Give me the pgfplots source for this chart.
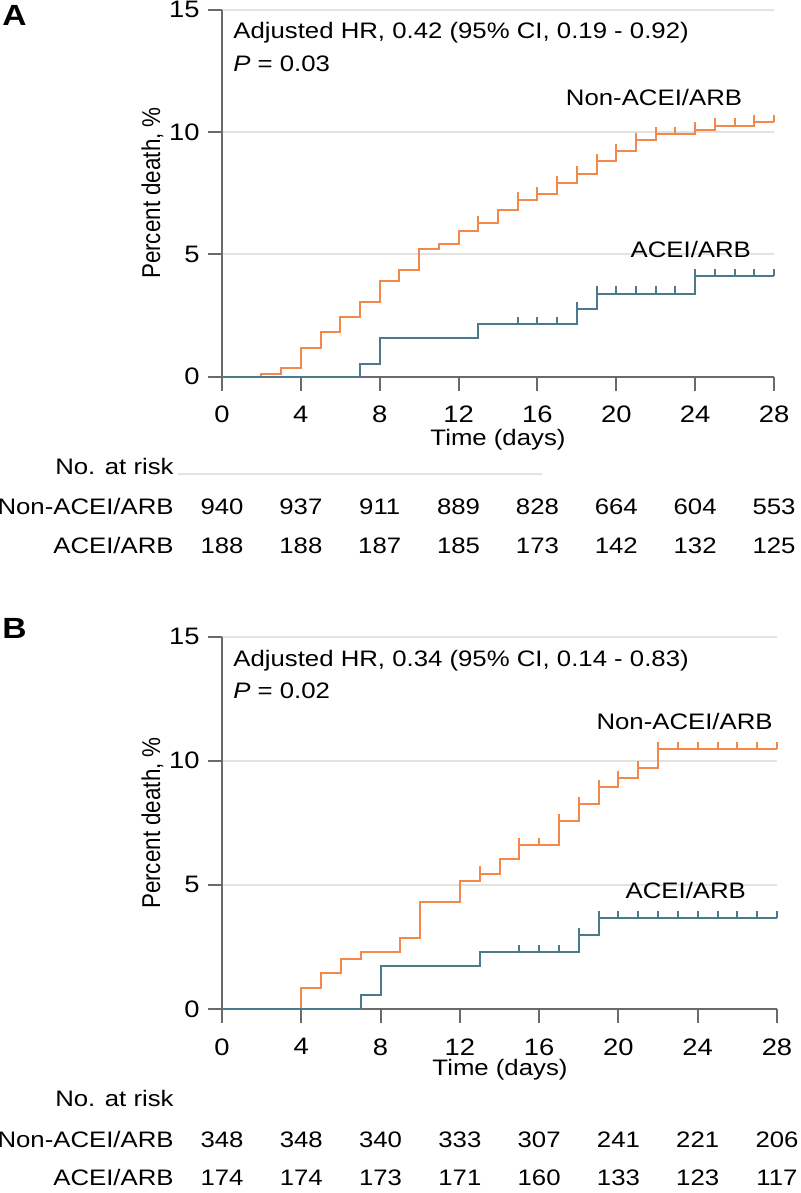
\documentclass[border=0pt]{standalone}
\usepackage{fontspec}
\setmainfont{Liberation Sans}[FakeStretch=1.15]
\newfontfamily\plainfont{Liberation Sans}
\usepackage{pgfplots}
\pgfplotsset{compat=1.18}
\definecolor{kmorange}{HTML}{F4874B}
\definecolor{kmblue}{HTML}{4A7A8C}
\definecolor{axisgray}{HTML}{6A6A6A}
\definecolor{gridgray}{HTML}{E2E2E2}
\pgfdeclareplotmark{cens}{\pgfpathmoveto{\pgfpointorigin}\pgfpathlineto{\pgfpoint{0pt}{3.6pt}}\pgfusepathqstroke}
\pgfplotsset{kmaxis/.style={
  scale only axis, anchor=south west,
  xmin=0, xmax=28, ymin=0, ymax=15,
  axis x line=bottom, axis y line=left,
  axis line style={-, axisgray, line width=1pt},
  xtick={0,4,...,28}, ytick={0,5,10,15},
  tick align=outside, major tick length=7.2pt,
  tick style={axisgray, line width=1pt},
  ymajorgrids, major grid style={gridgray, line width=1pt},
  /pgf/number format/assume math mode=true,
  tick label style={font=\fontsize{11.9}{12}\selectfont, text=black},
  xticklabel style={yshift=-4pt},
  yticklabel style={xshift=-0.5pt},
  clip=false,
}}
\newcommand{\annot}{\fontsize{11.2}{12}\selectfont}
\begin{document}
\begin{tikzpicture}[x=0.5pt, y=0.5pt]
\useasboundingbox (0,0) rectangle (800,1193);
% ---------------- Panel A ----------------
\begin{axis}[kmaxis, at={(111pt,408.15pt)}, width=276pt, height=183.5pt]
\addplot[kmorange, line width=1pt, const plot] coordinates {
 (0,0) (2,0.11) (3,0.34) (4,1.16) (5,1.81) (6,2.45) (7,3.06) (8,3.92) (9,4.35)
 (10,5.21) (11,5.41) (12,5.96) (13,6.29) (14,6.80) (15,7.24) (16,7.46) (17,7.92)
 (18,8.30) (19,8.80) (20,9.22) (21,9.66) (22,9.93) (24,10.10) (25,10.26) (27,10.41) (28,10.41)};
\addplot[kmorange, only marks, mark=cens, mark options={solid, line width=1pt}] coordinates {
 (13,6.29) (15,7.24) (16,7.46) (17,7.92) (18,8.30) (19,8.80) (20,9.22) (21,9.66)
 (22,9.93) (23,9.93) (24,10.10) (25,10.26) (26,10.26) (27,10.41) (28,10.41)};
\addplot[kmblue, line width=1pt, const plot] coordinates {
 (0,0) (7,0.52) (8,1.59) (13,2.15) (18,2.75) (19,3.40) (24,4.12) (28,4.12)};
\addplot[kmblue, only marks, mark=cens, mark options={solid, line width=1pt}] coordinates {
 (15,2.15) (16,2.15) (17,2.15) (18,2.75) (19,3.40) (20,3.40) (21,3.40) (22,3.40) (23,3.40)
 (24,4.12) (25,4.12) (26,4.12) (27,4.12) (28,4.12)};
\node[anchor=base east, font=\annot, inner sep=0pt] at (axis cs:26.4,11.1) {Non-ACEI/ARB};
\node[anchor=base east, font=\annot, inner sep=0pt] at (axis cs:26.85,4.87) {ACEI/ARB};
\end{axis}
% ---------------- Panel B ----------------
\begin{axis}[kmaxis, at={(111pt,92pt)}, width=277.5pt, height=186.2pt]
\addplot[kmorange, line width=1pt, const plot] coordinates {
 (0,0) (4,0.86) (5,1.43) (6,2.02) (7,2.29) (9,2.87) (10,4.31) (12,5.17) (13,5.45)
 (14,6.05) (15,6.61) (17,7.56) (18,8.26) (19,8.94) (20,9.31) (21,9.70) (22,10.48) (28,10.48)};
\addplot[kmorange, only marks, mark=cens, mark options={solid, line width=1pt}] coordinates {
 (13,5.45) (15,6.61) (16,6.61) (17,7.56) (18,8.26) (19,8.94) (20,9.31) (21,9.70)
 (22,10.48) (23,10.48) (24,10.48) (25,10.48) (26,10.48) (27,10.48) (28,10.48)};
\addplot[kmblue, line width=1pt, const plot] coordinates {
 (0,0) (7,0.57) (8,1.72) (13,2.29) (18,2.97) (19,3.67) (28,3.67)};
\addplot[kmblue, only marks, mark=cens, mark options={solid, line width=1pt}] coordinates {
 (15,2.29) (16,2.29) (17,2.29) (18,2.97) (19,3.67) (20,3.67) (21,3.67) (22,3.67) (23,3.67)
 (24,3.67) (25,3.67) (26,3.67) (27,3.67) (28,3.67)};
\node[anchor=base east, font=\annot, inner sep=0pt] at (axis cs:27.8,11.25) {Non-ACEI/ARB};
\node[anchor=base east, font=\annot, inner sep=0pt] at (axis cs:26.45,4.45) {ACEI/ARB};
\end{axis}
% ---------------- Texts ----------------
\begin{scope}[every node/.style={inner sep=0pt, font=\annot}]
% panel letters
\node[anchor=base west, font=\fontsize{14.6}{15}\selectfont\bfseries] at (2,1193-26) {A};
\node[anchor=base west, font=\fontsize{14.6}{15}\selectfont\bfseries] at (2,1193-639) {B};
% annotations
\node[anchor=base west] at (233,1193-39) {Adjusted HR, 0.42 (95\% CI, 0.19 - 0.92)};
\node[anchor=base west] at (233,1193-72) {\textit{P} = 0.03};
\node[anchor=base west] at (233,1193-667) {Adjusted HR, 0.34 (95\% CI, 0.14 - 0.83)};
\node[anchor=base west] at (233,1193-699) {\textit{P} = 0.02};
% y labels
\node[anchor=base, rotate=90, font=\plainfont\fontsize{11.2}{12}\selectfont] at (160,1193-193) {\scalebox{1}[1.15]{Percent death, \%}};
\node[anchor=base, rotate=90, font=\plainfont\fontsize{11.2}{12}\selectfont] at (160,1193-823) {\scalebox{1}[1.15]{Percent death, \%}};
% x labels
\node[anchor=base] at (498,1193-446) {Time (days)};
\node[anchor=base] at (500,1193-1076) {Time (days)};
% risk table A
\node[anchor=base east] at (174,1193-475) {No. at risk};
\draw[gridgray, line width=1pt] (178,1193-474) -- (542,1193-474);
\node[anchor=base east] at (174,1193-515) {Non-ACEI/ARB};
\node[anchor=base east] at (174,1193-554) {ACEI/ARB};
\foreach \v [count=\i from 0] in {940,937,911,889,828,664,604,553}
  \node[anchor=base] at ({222+\i*78.857},1193-515) {\v};
\foreach \v [count=\i from 0] in {188,188,187,185,173,142,132,125}
  \node[anchor=base] at ({222+\i*78.857},1193-554) {\v};
% risk table B
\node[anchor=base east] at (174,1193-1107) {No. at risk};
\node[anchor=base east] at (174,1193-1147) {Non-ACEI/ARB};
\node[anchor=base east] at (174,1193-1185) {ACEI/ARB};
\foreach \v [count=\i from 0] in {348,348,340,333,307,241,221,206}
  \node[anchor=base] at ({222+\i*79.286},1193-1147) {\v};
\foreach \v [count=\i from 0] in {174,174,173,171,160,133,123,117}
  \node[anchor=base] at ({222+\i*79.286},1193-1185) {\v};
\end{scope}
\end{tikzpicture}
\end{document}
